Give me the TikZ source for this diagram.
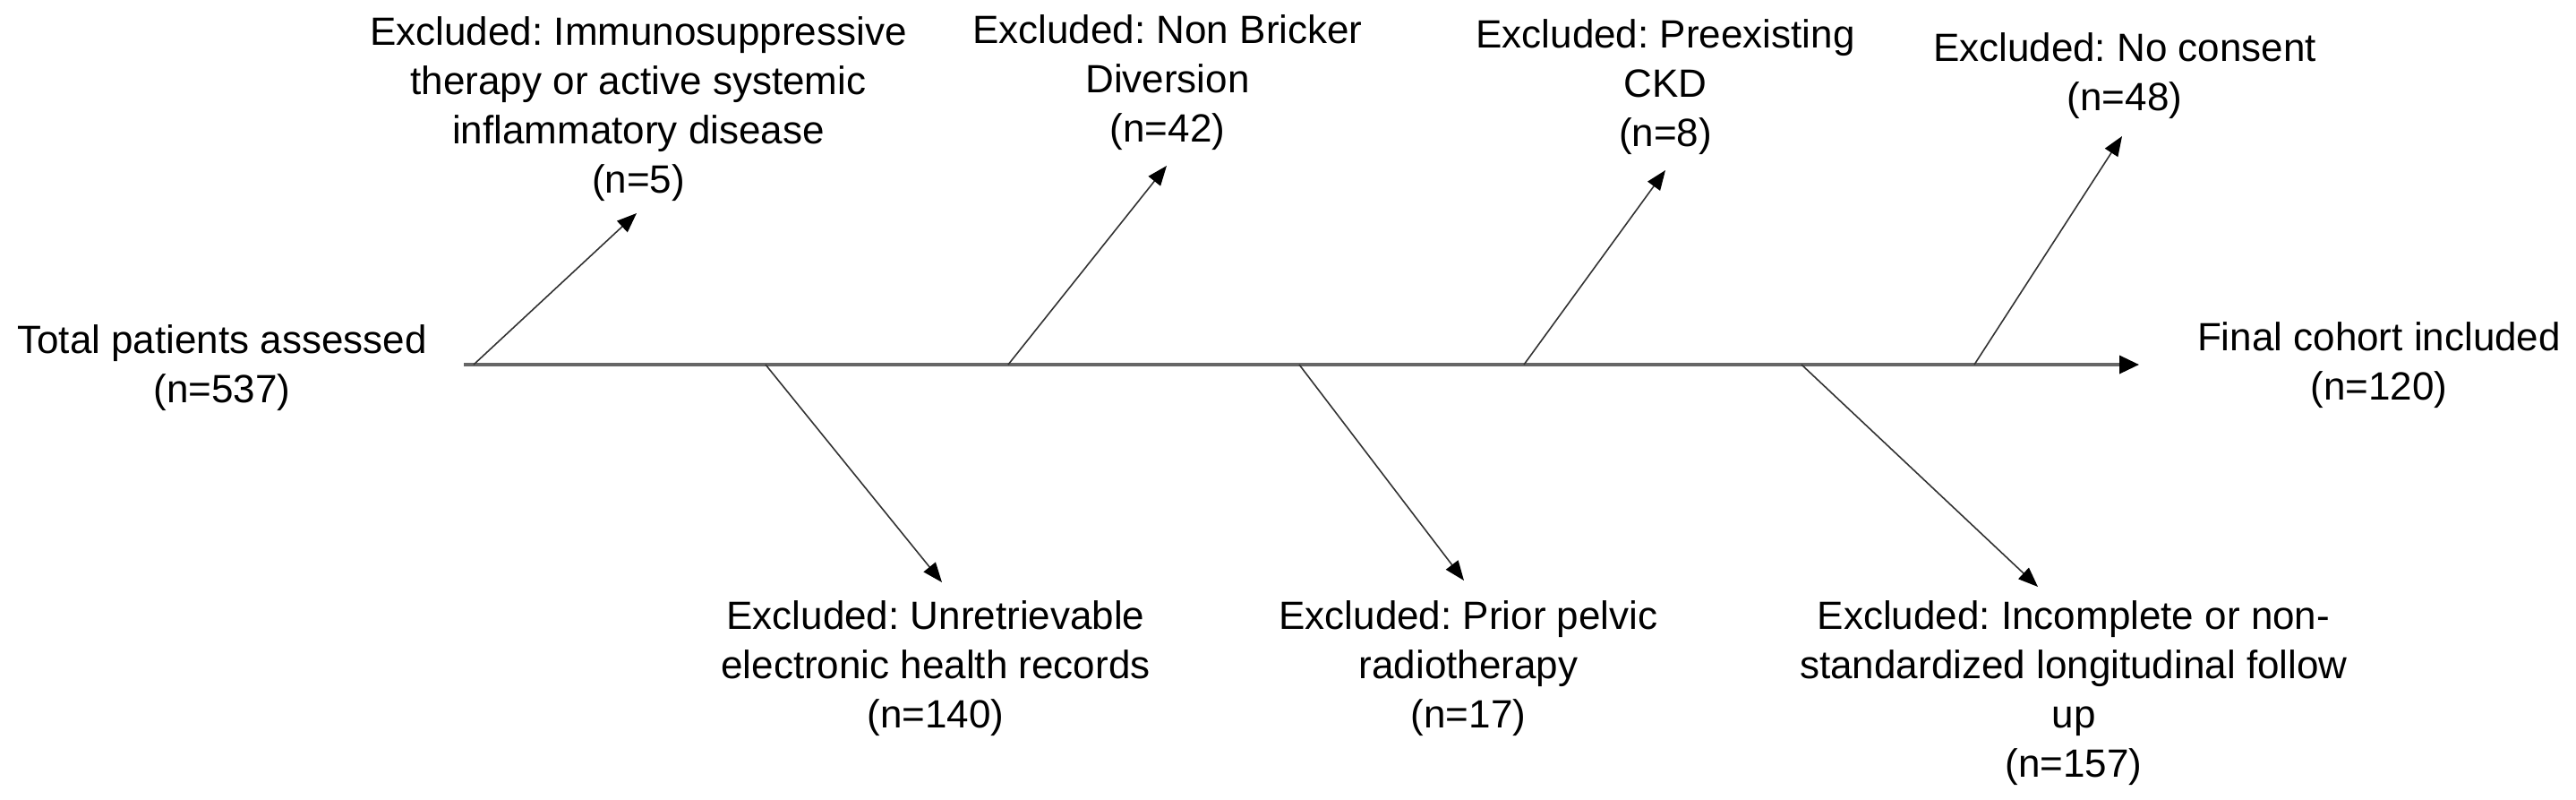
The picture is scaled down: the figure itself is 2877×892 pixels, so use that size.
\documentclass[tikz,border=0pt]{standalone}
\usepackage{fontspec}
\setmainfont{Liberation Sans}
\usetikzlibrary{arrows.meta}
\frenchspacing
\begin{document}
\begin{tikzpicture}[x=1pt,y=-1pt,
  lbl/.style={align=center,inner sep=0pt,font=\fontsize{44}{55}\selectfont},
  branch/.style={draw=black!80,line width=1.6pt,-{Triangle[length=22pt,width=17pt,color=black]}},
  axisline/.style={draw=black!60,line width=3.5pt,-{Triangle[length=22pt,width=20pt,color=black]}}]
\useasboundingbox (0,0) rectangle (2877,892);

% text nodes
\node[lbl] (total) at (248,411) {Total patients assessed\\(n=537)};
\node[lbl] (final) at (2657,408) {Final cohort included\\(n=120)};
\node[lbl] (ex1) at (713,121.5) {Excluded: Immunosuppressive\\therapy or active systemic\\inflammatory disease\\(n=5)};
\node[lbl] (ex2) at (1304,92) {Excluded: Non Bricker\\Diversion\\(n=42)};
\node[lbl] (ex3) at (1860,97.5) {Excluded: Preexisting\\CKD\\(n=8)};
\node[lbl] (ex4) at (2373,85) {Excluded: No consent\\(n=48)};
\node[lbl] (ex5) at (1045,746) {Excluded: Unretrievable\\electronic health records\\(n=140)};
\node[lbl] (ex6) at (1640,746) {Excluded: Prior pelvic\\radiotherapy\\(n=17)};
\node[lbl] (ex7) at (2316,774) {Excluded: Incomplete or non-\\standardized longitudinal follow\\up\\(n=157)};

% axis coordinates
\coordinate (axS) at (518,407);
\coordinate (axE) at (2389,407);
\coordinate (b1) at (529,407);
\coordinate (b2) at (1126,407);
\coordinate (b3) at (1702,407);
\coordinate (b4) at (2205,407);
\coordinate (d1) at (855,407);
\coordinate (d2) at (1451,407);
\coordinate (d3) at (2012,407);
% arrow tips
\coordinate (t1) at (711,238);
\coordinate (t2) at (1303,185);
\coordinate (t3) at (1860,190);
\coordinate (t4) at (2370,152);
\coordinate (s1) at (1052,650);
\coordinate (s2) at (1635,648);
\coordinate (s3) at (2276,655);

\draw[axisline] (axS) -- (axE);
\draw[branch] (b1) -- (t1);
\draw[branch] (b2) -- (t2);
\draw[branch] (b3) -- (t3);
\draw[branch] (b4) -- (t4);
\draw[branch] (d1) -- (s1);
\draw[branch] (d2) -- (s2);
\draw[branch] (d3) -- (s3);
\end{tikzpicture}
\end{document}
